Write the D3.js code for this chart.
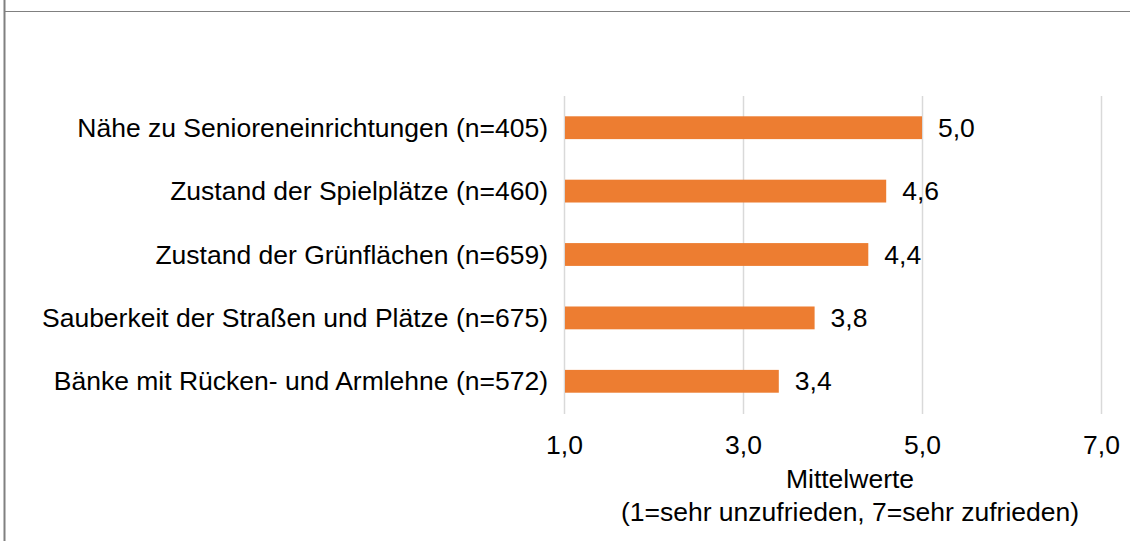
<!DOCTYPE html>
<html>
<head>
<meta charset="utf-8">
<script src="https://cdn.jsdelivr.net/npm/d3@7"></script>
<style>
  body { margin: 0; background: #fff; }
  svg { display: block; font-family: "Liberation Sans", Arial, sans-serif; }
</style>
</head>
<body>
<svg id="chart" width="1130" height="541"></svg>
<script>
// --- data ---
const categories = [
  'Nähe zu Senioreneinrichtungen (n=405)',
  'Zustand der Spielplätze (n=460)',
  'Zustand der Grünflächen (n=659)',
  'Sauberkeit der Straßen und Plätze (n=675)',
  'Bänke mit Rücken- und Armlehne (n=572)'
];
const values = [5.0, 4.6, 4.4, 3.8, 3.4];
const ticks = [1, 3, 5, 7];
const axisTitle = ['Mittelwerte', '(1=sehr unzufrieden, 7=sehr zufrieden)'];

const svg = d3.select('#chart');
const fmt = v => v.toFixed(1).replace('.', ',');
const FS = 26.5;

// frame lines
svg.append('line').attr('x1', 4.5).attr('x2', 4.5).attr('y1', 0).attr('y2', 541)
  .attr('stroke', '#808080').attr('stroke-width', 2);
svg.append('line').attr('x1', 4).attr('x2', 1130).attr('y1', 11.5).attr('y2', 11.5)
  .attr('stroke', '#808080').attr('stroke-width', 1);

// --- scales ---
const x = d3.scaleLinear().domain([1, 7]).range([564, 1101]);
const y = d3.scaleBand().domain(categories).range([96, 413]).paddingInner(0.64).paddingOuter(0.32);

// gridlines
svg.append('g').selectAll('line').data(ticks).join('line')
  .attr('x1', d => Math.round(x(d)) + 0.5).attr('x2', d => Math.round(x(d)) + 0.5)
  .attr('y1', 96).attr('y2', 414)
  .attr('stroke', '#d9d9d9').attr('stroke-width', 1.5);

// bars
svg.append('g').selectAll('rect').data(values).join('rect')
  .attr('x', x(1) + 1)
  .attr('y', (d, i) => y(categories[i]))
  .attr('width', d => x(d) - x(1) - 1)
  .attr('height', y.bandwidth())
  .attr('fill', '#ed7d31');

// value labels
svg.append('g').selectAll('text').data(values).join('text')
  .attr('x', d => x(d) + 16)
  .attr('y', (d, i) => y(categories[i]) + y.bandwidth() / 2 + 9)
  .attr('font-size', FS).attr('fill', '#000')
  .text(d => fmt(d));

// category labels
svg.append('g').selectAll('text').data(categories).join('text')
  .attr('x', 548)
  .attr('y', d => y(d) + y.bandwidth() / 2 + 9)
  .attr('text-anchor', 'end')
  .attr('font-size', FS).attr('fill', '#000')
  .text(d => d);

// x axis tick labels
const ax = svg.append('g').attr('transform', 'translate(0,414)')
  .call(d3.axisBottom(x).tickValues(ticks).tickFormat(fmt).tickSize(0).tickPadding(0));
ax.select('.domain').remove();
ax.selectAll('text').attr('dy', null).attr('y', 40)
  .attr('font-size', FS).attr('fill', '#000')
  .attr('font-family', '"Liberation Sans", Arial, sans-serif');

// axis title
svg.append('g').selectAll('text').data(axisTitle).join('text')
  .attr('x', 850)
  .attr('y', (d, i) => 488 + i * 33)
  .attr('text-anchor', 'middle')
  .attr('font-size', FS).attr('fill', '#000')
  .text(d => d);
</script>
</body>
</html>
